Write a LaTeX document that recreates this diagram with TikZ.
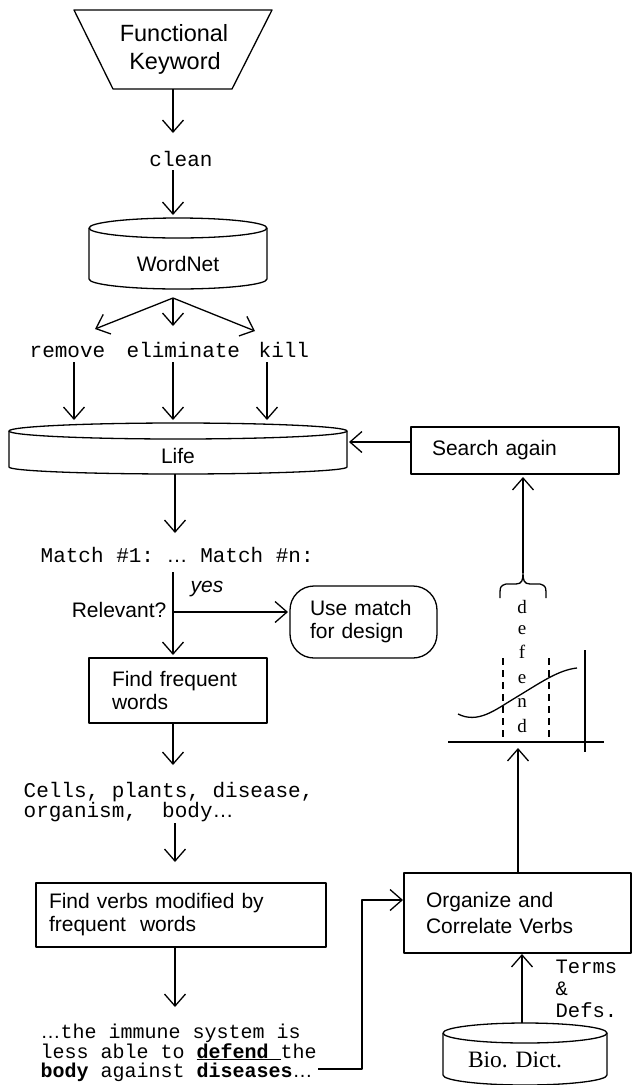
\documentclass[tikz,border=0pt]{standalone}
\usepackage{fontspec}
\setmainfont{Liberation Sans}
\setmonofont{Liberation Mono}
\newfontfamily\tmsfont{Liberation Serif}
\usetikzlibrary{arrows.meta}
\begin{document}
\begin{tikzpicture}[x=1pt,y=-1pt,line width=1.3pt,line join=round,
  arr/.style={-{Straight Barb[length=12pt,width=21pt]}},
  sf/.style={inner sep=0pt,font=\fontsize{21}{23}\selectfont},
  tt/.style={inner sep=0pt,font=\ttfamily\fontsize{21}{20}\selectfont},
  tm/.style={inner sep=0pt,font=\tmsfont\fontsize{19}{19}\selectfont},
  boxst/.style={draw,inner ysep=0pt,align=left,font=\fontsize{21}{23}\selectfont}]
\path[use as bounding box] (0,0) rectangle (635,1085);

% ---------- Functional keyword (trapezoid)
\draw (74,10) -- (272,10) -- (232,89) -- (113,89) -- cycle;
\node[inner sep=0pt,font=\fontsize{23.5}{28}\selectfont,anchor=base] (kw1) at (174,41.5) {Functional};
\node[inner sep=0pt,font=\fontsize{23.5}{28}\selectfont,anchor=base] (kw2) at (175,69.5) {Keyword};
\coordinate (kwB) at (173,89);
\coordinate (cleanT) at (173,133);
\coordinate (cleanB) at (173,170);
\node[tt,anchor=base] (clean) at (181,166) {clean};
\draw[arr] (kwB) -- (cleanT);

% ---------- WordNet cylinder
\draw (89,228) -- (89,279) arc[start angle=180,end angle=360,x radius=89pt,y radius=10pt] -- (267,228);
\draw (178,228) ellipse[x radius=89pt,y radius=10pt];
\node[sf,anchor=base] (wn) at (178,271) {WordNet};
\coordinate (wnT) at (173,215);
\coordinate (wnB) at (173,298);
\draw[arr] (cleanB) -- (wnT);

% ---------- synonyms
\node[tt,anchor=base west] (rem) at (29,357) {remove};
\node[tt,anchor=base west] (elim) at (126,357) {eliminate};
\node[tt,anchor=base west] (kill) at (258,357) {kill};
\coordinate (remT) at (95,329);
\coordinate (elimT) at (173,326);
\coordinate (killT) at (255,331);
\draw[arr] (wnB) -- (remT);
\draw[arr] (wnB) -- (elimT);
\draw[arr] (wnB) -- (killT);
\coordinate (remB) at (74,362);
\coordinate (elimB) at (173,362);
\coordinate (killB) at (267,362);
\coordinate (lifeT1) at (74,420);
\coordinate (lifeT2) at (173,420);
\coordinate (lifeT3) at (267,420);
\draw[arr] (remB) -- (lifeT1);
\draw[arr] (elimB) -- (lifeT2);
\draw[arr] (killB) -- (lifeT3);

% ---------- Life cylinder
\draw (9,431) -- (9,467) arc[start angle=180,end angle=360,x radius=169pt,y radius=7pt] -- (347,431);
\draw (178,431) ellipse[x radius=169pt,y radius=8pt];
\node[sf,anchor=base] (life) at (178,463) {Life};
\coordinate (lifeB) at (175,474);
\coordinate (lifeR) at (349,442);
\coordinate (matchT) at (175,533);
\draw[arr] (lifeB) -- (matchT);

% ---------- matches
\node[tt,anchor=base west] (match) at (40,562) {Match \#1: {\rmfamily …} Match \#n:};
\coordinate (relT) at (173,572);
\coordinate (relM) at (173,612);
\coordinate (useW) at (288,612);
\node[sf,anchor=base east] (rel) at (167,617) {Relevant?};
\node[sf,anchor=base west,font=\itshape\fontsize{21}{23}\selectfont] (yes) at (190,592) {yes};
\node[boxst,rounded corners=24pt,minimum height=72pt,inner xsep=20pt,text width=107pt] (use) at (363.5,622) {Use match\\for design};
\draw[arr] (relM) -- (useW);

% ---------- Find frequent words
\node[boxst,minimum height=65pt,inner xsep=23pt,text width=132pt] (ff) at (178,690.5) {Find frequent\\words};
\coordinate (ffT) at (173,655);
\draw[arr] (relT) -- (ffT);
\coordinate (ffB) at (173,723);
\coordinate (cellsT) at (173,765);
\draw[arr] (ffB) -- (cellsT);

\node[tt,anchor=base west] (cells1) at (23,797) {Cells, plants, disease,};
\node[tt,anchor=base west] (cells2) at (23,817) {organism,\ \ body{\rmfamily …}};
\coordinate (cellsB) at (175,823);
\coordinate (fvT) at (175,862);
\draw[arr] (cellsB) -- (fvT);

% ---------- Find verbs
\node[boxst,minimum height=64pt,inner xsep=13pt,text width=264pt] (fv) at (181,915) {Find verbs modified by\\frequent\ \ words};
\coordinate (fvB) at (175,947);
\coordinate (immT) at (175,1007);
\draw[arr] (fvB) -- (immT);

\node[inner sep=0pt,anchor=base west,font=\ttfamily\fontsize{20}{20}\selectfont] (imm1) at (40,1038) {{\rmfamily …}the immune system is};
\node[inner sep=0pt,anchor=base west,font=\ttfamily\fontsize{20}{20}\selectfont] (imm2) at (40,1058) {less able to \underline{\textbf{defend }}the};
\node[inner sep=0pt,anchor=base west,font=\ttfamily\fontsize{20}{20}\selectfont] (imm3) at (40,1077) {\textbf{body} against \textbf{diseases}{\rmfamily …}};
\coordinate (immE) at (318,1069);
\coordinate (bend) at (362,1069);

% ---------- Organize
\node[boxst,minimum height=80pt,inner xsep=22pt,text width=183pt,font=\fontsize{21}{26}\selectfont] (org) at (517.5,913) {Organize and\\Correlate Verbs};
\coordinate (orgW) at (403,900);
\draw[arr] (immE) -- (bend) |- (orgW);

% ---------- Bio. Dict.
\draw (443,1033) -- (443,1075) arc[start angle=180,end angle=360,x radius=82pt,y radius=10pt] -- (607,1033);
\draw (525,1033) ellipse[x radius=82pt,y radius=10pt];
\node[inner sep=0pt,anchor=base,font=\tmsfont\fontsize{23.5}{24}\selectfont] (bio) at (515,1067) {Bio. Dict.};
\coordinate (bioT) at (522,1023);
\coordinate (orgB) at (522,954);
\draw[arr] (bioT) -- (orgB);
\node[inner sep=0pt,anchor=base west,font=\ttfamily\fontsize{20.5}{20}\selectfont] (terms) at (555,973) {Terms};
\node[inner sep=0pt,anchor=base west,font=\ttfamily\fontsize{20.5}{20}\selectfont] (amp) at (555,995) {\&};
\node[inner sep=0pt,anchor=base west,font=\ttfamily\fontsize{20.5}{20}\selectfont] (defs) at (555,1017) {Defs.};

% ---------- graph
\coordinate (orgT) at (518,873);
\coordinate (graphB) at (518,748);
\draw[arr] (orgT) -- (graphB);
\draw (448,742) -- (604,742);
\draw (585,650) -- (585,752);
\draw[dash pattern=on 7pt off 5pt] (503,658) -- (503,737);
\draw[dash pattern=on 7pt off 5pt] (549,658) -- (549,737);
\draw (458,714) .. controls (478,724) and (495,710) .. (515,698) .. controls (540,683) and (558,670) .. (577,668);
\node[tm,anchor=base] (l1) at (522,613) {d};
\node[tm,anchor=base] (l2) at (522,634) {e};
\node[tm,anchor=base] (l3) at (522,658) {f};
\node[tm,anchor=base] (l4) at (522,683) {e};
\node[tm,anchor=base] (l5) at (522,707) {n};
\node[tm,anchor=base] (l6) at (522,732) {d};
% brace
\draw (500,598) .. controls (500,586) .. (506,584) -- (516,584) .. controls (522,584) and (523,580) .. (523,573)
      .. controls (523,580) and (524,584) .. (530,584) -- (540,584) .. controls (546,586) .. (546,598);
\coordinate (braceT) at (523,573);
\coordinate (saB) at (523,477);
\draw[arr] (braceT) -- (saB);

% ---------- Search again
\node[boxst,minimum height=47pt,inner xsep=21pt,text width=166pt] (sa) at (515,450.5) {Search again};
\coordinate (saW) at (411,442);
\draw[arr] (saW) -- (lifeR);
\end{tikzpicture}
\end{document}
